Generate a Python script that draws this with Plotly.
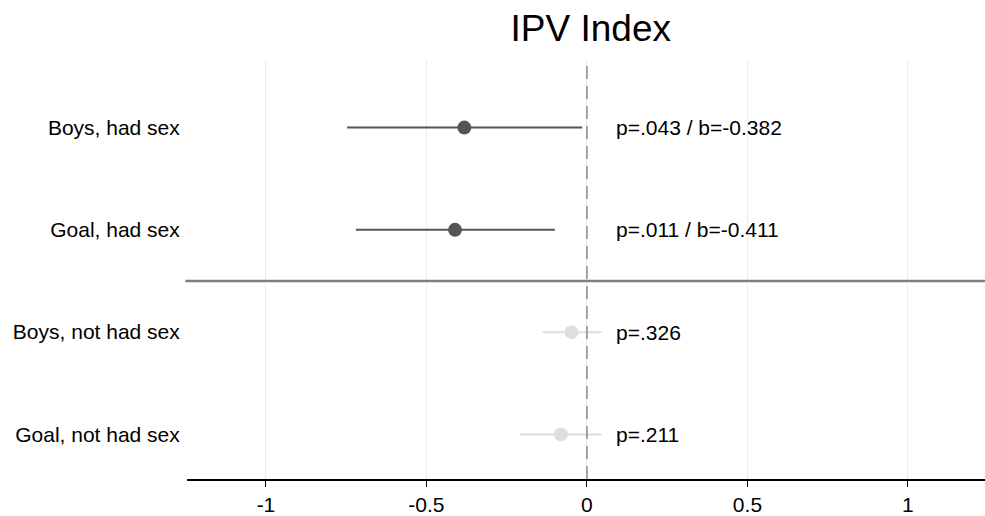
import plotly.graph_objects as go

categories = ["Boys, had sex", "Goal, had sex", "Boys, not had sex", "Goal, not had sex"]
row_pos = [1, 2, 3, 4]
estimates = [-0.382, -0.411, -0.048, -0.081]
ci_low = [-0.747, -0.720, -0.139, -0.209]
ci_high = [-0.015, -0.100, 0.046, 0.046]
p_labels = ["p=.043 / b=-0.382", "p=.011 / b=-0.411", "p=.326", "p=.211"]
colors = ["#555555", "#555555", "#dedede", "#dedede"]
x_ticks = [-1, -0.5, 0, 0.5, 1]
x_ticktext = ["-1", "-0.5", "0", "0.5", "1"]

FONT = "Liberation Sans, Arial, sans-serif"

fig = go.Figure()
for i in range(len(categories)):
    fig.add_trace(go.Scatter(
        x=[estimates[i]], y=[row_pos[i]], mode="markers",
        marker=dict(size=14, color=colors[i]),
        error_x=dict(type="data", symmetric=False,
                     array=[ci_high[i] - estimates[i]],
                     arrayminus=[estimates[i] - ci_low[i]],
                     color=colors[i], thickness=2, width=0),
        showlegend=False, hoverinfo="skip",
    ))

for i in range(len(categories)):
    fig.add_annotation(x=0.084, y=row_pos[i], text=p_labels[i], xref="x", yref="y",
                       xanchor="left", yanchor="middle", showarrow=False,
                       font=dict(family=FONT, size=21, color="#000000"))

# zero reference line
fig.add_shape(type="line", xref="x", yref="paper", x0=0, x1=0, y0=0, y1=1,
              line=dict(color="#8a8a8a", width=1.5, dash="13px,7px"), layer="above")
# separator line between groups
fig.add_shape(type="line", xref="paper", yref="y", x0=-0.002, x1=1, y0=2.5, y1=2.5,
              line=dict(color="#808080", width=2.5))

fig.update_layout(
    width=985, height=516,
    margin=dict(l=187, r=0, t=60, b=30),
    paper_bgcolor="white", plot_bgcolor="white",
    font=dict(family=FONT, size=21, color="#000000"),
    title=dict(text="IPV Index", x=0.506, xref="paper", xanchor="center",
               y=0.945, yref="container", yanchor="middle",
               font=dict(family=FONT, size=37, color="#000000")),
    xaxis=dict(range=[-1.246, 1.240], tickvals=x_ticks, ticktext=x_ticktext,
               showgrid=True, gridcolor="#ececec", gridwidth=1, zeroline=False,
               showline=True, linecolor="#000000", linewidth=1.5,
               ticks="outside", ticklen=6, tickcolor="#000000", tickwidth=1.2,
               tickfont=dict(family=FONT, size=21, color="#000000")),
    yaxis=dict(range=[4.436, 0.339], tickvals=row_pos, ticktext=categories,
               showgrid=False, zeroline=False, showline=False,
               ticks="outside", ticklen=2, tickcolor="rgba(0,0,0,0)",
               tickfont=dict(family=FONT, size=21, color="#000000")),
)

fig.write_html("out.html", config={"displayModeBar": False},
               post_script="document.body.style.margin='0';document.body.style.padding='0';")
